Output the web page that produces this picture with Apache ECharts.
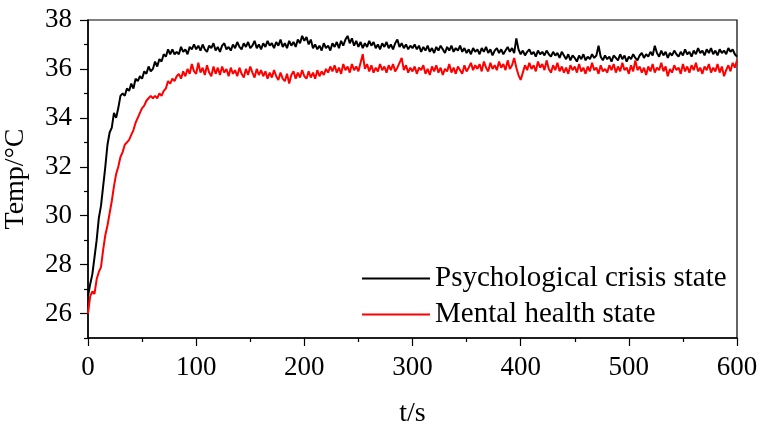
<!DOCTYPE html>
<html>
<head>
<meta charset="utf-8">
<script src="https://cdn.jsdelivr.net/npm/echarts@6/dist/echarts.min.js"></script>
<style>
html,body{margin:0;padding:0;background:#fff;}
#chart{width:760px;height:427px;}
</style>
</head>
<body>
<div id="chart"></div>
<script>
// sampling step (s) of the traces
const stepSeconds = 2;
const seriesNames = ['Psychological crisis state', 'Mental health state'];
const xTickLabels = [0, 100, 200, 300, 400, 500, 600];
const yTickLabels = [26, 28, 30, 32, 34, 36, 38];
const yMinorTicks = [25, 27, 29, 31, 33, 35, 37];

// Temperature (°C) every 2 s from t = 0 to 600 s
const crisisTemp = [
  26.7, 27.2, 27.6, 28.3, 29.0, 29.9, 30.4, 31.2, 32.0, 32.9,
  33.4, 33.6, 34.2, 34.0, 34.4, 34.9, 35.0, 34.9, 35.2, 35.1,
  35.4, 35.2, 35.6, 35.5, 35.7, 35.6, 35.9, 35.8, 36.1, 35.9,
  36.0, 36.3, 36.1, 36.4, 36.3, 36.6, 36.5, 36.8, 36.6, 36.8,
  36.6, 36.7, 36.6, 36.9, 36.7, 36.8, 36.6, 36.9, 36.8, 37.0,
  36.8,
  36.95, 36.75, 37.00, 36.80, 36.70, 36.95, 36.85, 37.05, 36.75, 36.90,
  36.70, 36.95, 37.05, 36.80, 36.90, 36.75, 37.00, 36.85, 37.10, 36.90,
  36.80, 37.05, 36.90, 37.10, 36.85, 36.95, 37.15, 36.85, 37.00, 36.80,
  37.05, 36.90, 37.15, 36.95, 37.05, 36.85, 37.10, 36.95, 37.20, 36.90,
  37.05, 36.85, 37.15, 36.95, 37.10, 36.90, 37.20, 37.05, 37.35, 37.15,
  37.30, 37.00, 37.20, 36.85, 37.00, 36.80, 36.95, 36.75, 37.05, 36.85,
  36.95, 36.75, 37.05, 36.90, 37.10, 36.85, 37.15, 36.95, 37.20, 37.35,
  37.05, 37.25, 36.95, 37.15, 36.90, 37.10, 36.85, 37.05, 36.90, 37.15,
  36.95, 37.10, 36.85, 37.00, 36.80, 37.05, 36.90, 37.10, 36.85, 37.00,
  36.80, 37.05, 37.20, 36.90, 37.05, 36.85, 37.00, 36.80, 36.95, 36.85,
  37.00, 36.80, 36.95, 36.70, 36.90, 36.75, 36.95, 36.70, 36.85, 36.65,
  36.90, 36.75, 36.95, 36.80, 36.65, 36.90, 36.75, 36.95, 36.70, 36.85,
  36.75, 36.95, 36.70, 36.85, 36.65, 36.80, 36.60, 36.85, 36.70, 36.80,
  36.60, 36.85, 36.70, 36.90, 36.65, 36.80, 36.55, 36.75, 36.85, 36.65,
  36.80, 36.60, 36.75, 36.90, 36.70, 36.85, 36.65, 37.25, 36.80, 36.60,
  36.75, 36.55, 36.70, 36.80, 36.60, 36.70, 36.50, 36.75, 36.60, 36.70,
  36.55, 36.75, 36.60, 36.50, 36.70, 36.55, 36.65, 36.45, 36.70, 36.55,
  36.40, 36.60, 36.35, 36.55, 36.45, 36.30, 36.55, 36.40, 36.60, 36.35,
  36.50, 36.40, 36.60, 36.45, 36.55, 36.95, 36.50, 36.35, 36.55, 36.40,
  36.50, 36.30, 36.55, 36.45, 36.35, 36.60, 36.40, 36.55, 36.30, 36.50,
  36.40, 36.60, 36.45, 36.35, 36.55, 36.65, 36.45, 36.60, 36.50, 36.70,
  36.55, 36.95, 36.65, 36.50, 36.75, 36.55, 36.70, 36.45, 36.65, 36.55,
  36.75, 36.60, 36.50, 36.70, 36.55, 36.80, 36.60, 36.70, 36.50, 36.75,
  36.60, 36.85, 36.65, 36.75, 36.55, 36.80, 36.65, 36.85, 36.60, 36.75,
  36.55, 36.80, 36.65, 36.75, 36.60, 36.85, 36.70, 36.80, 36.60, 36.50
];
const healthTemp = [
  26.0, 26.7, 26.9, 26.8, 27.4, 27.7, 27.9, 28.6, 29.2, 29.6,
  30.1, 30.6, 31.2, 31.7, 32.0, 32.4, 32.6, 32.9, 33.0, 33.1,
  33.3, 33.5, 33.8, 34.0, 34.2, 34.4, 34.5, 34.7, 34.8, 34.9,
  34.8, 34.9, 34.8, 35.0, 34.9, 35.1, 35.2, 35.5, 35.4, 35.6,
  35.5, 35.7, 35.8, 35.6, 35.9, 35.7, 36.0, 35.8, 36.2, 35.9,
  35.8,
  36.25, 35.85, 36.05, 35.75, 36.15, 35.85, 35.70, 36.10, 35.80, 36.05,
  35.75, 36.10, 35.85, 36.00, 35.70, 36.05, 35.80, 35.95, 35.70, 36.05,
  35.80, 35.65, 36.00, 35.75, 36.10, 35.85, 35.65, 36.00, 35.75, 35.95,
  35.70, 35.90, 35.60, 35.85, 35.65, 35.95, 35.70, 35.55, 35.85, 35.60,
  35.50, 35.80, 35.40, 35.75, 35.90, 35.60, 35.85, 35.65, 35.95, 35.70,
  35.60, 35.90, 35.65, 35.85, 35.60, 35.95, 35.70, 35.90, 35.75, 36.00,
  35.85, 36.10, 35.90, 36.15, 35.85, 36.05, 35.80, 36.20, 35.95, 36.10,
  35.85, 36.20, 35.95, 36.10, 35.90, 36.25, 36.60, 36.00, 36.20, 35.90,
  36.15, 35.85, 36.05, 35.90, 36.20, 35.95, 36.10, 35.85, 36.15, 35.95,
  36.20, 35.90, 36.05, 36.25, 36.45, 35.95, 36.15, 35.85, 36.05, 35.90,
  36.10, 35.80, 36.05, 35.95, 36.15, 35.80, 36.00, 35.75, 36.10, 35.90,
  36.15, 35.85, 36.05, 35.75, 36.00, 35.90, 36.20, 35.85, 36.05, 35.80,
  36.10, 35.95, 35.80, 36.15, 35.90, 36.05, 36.25, 35.95, 36.15, 36.00,
  36.20, 35.90, 36.30, 36.05, 35.90, 36.25, 36.00, 36.15, 35.95, 36.30,
  36.05, 36.20, 35.95, 36.35, 36.00, 36.15, 36.45, 36.05, 35.75, 35.55,
  35.85, 36.15, 35.95, 36.25, 36.00, 36.15, 35.90, 36.30, 36.05, 36.20,
  35.95, 36.35, 36.00, 35.85, 36.15, 35.95, 36.25, 35.90, 36.10, 35.85,
  36.05, 35.80, 36.15, 35.95, 36.10, 35.85, 36.20, 35.90, 36.05, 35.80,
  36.10, 35.90, 36.25, 35.95, 36.05, 35.80, 36.15, 35.90, 36.00, 35.85,
  36.15, 35.95, 36.20, 35.85, 36.10, 35.90, 36.25, 35.95, 36.05, 35.80,
  36.15, 35.90, 36.35, 35.95, 36.10, 35.85, 36.05, 35.75, 36.10, 35.90,
  36.20, 35.85, 36.05, 35.95, 36.25, 35.90, 36.10, 35.70, 36.00, 35.85,
  36.15, 35.95, 36.05, 35.80, 36.20, 35.90, 36.10, 35.85, 36.15, 35.95,
  36.25, 35.90, 36.05, 35.80, 36.10, 35.95, 36.20, 35.85, 36.05, 35.90,
  36.20, 35.85, 36.10, 35.70, 35.95, 36.15, 35.90, 36.25, 36.05, 36.35
];

function pairs(values) {
  return values.map((v, i) => [i * stepSeconds, v]);
}

const FONT = 'Liberation Serif';
const chart = echarts.init(document.getElementById('chart'), null, {renderer: 'canvas'});
chart.setOption({
  animation: false,
  backgroundColor: '#fff',
  grid: {left: 88, right: 23, top: 20, bottom: 89, outerBoundsMode: 'none', containLabel: false,
         show: true, borderColor: '#000', borderWidth: 1.2, backgroundColor: 'transparent'},
  legend: {
    orient: 'vertical',
    left: 362,
    top: 264,
    padding: 0,
    itemWidth: 68,
    itemHeight: 2,
    itemGap: 7,
    icon: 'rect',
    textStyle: {fontFamily: FONT, fontSize: 29, color: '#000'},
    data: seriesNames
  },
  xAxis: {
    type: 'value',
    min: 0, max: 600, interval: 100,
    name: 't/s',
    nameLocation: 'middle',
    nameGap: 62,
    nameTextStyle: {fontFamily: FONT, fontSize: 28, color: '#000'},
    axisLine: {show: true, onZero: false, lineStyle: {color: '#000', width: 1.5}},
    axisTick: {show: true, length: 8, lineStyle: {color: '#000', width: 1.2}, customValues: xTickLabels},
    minorTick: {show: true, splitNumber: 2, length: 4, lineStyle: {color: '#000', width: 1.2}},
    axisLabel: {fontFamily: FONT, fontSize: 27, color: '#000', margin: 16, customValues: xTickLabels},
    splitLine: {show: false}
  },
  yAxis: [{
    type: 'value',
    min: 25, max: 38, interval: 1,
    name: 'Temp/°C',
    nameLocation: 'middle',
    nameGap: 58,
    nameTextStyle: {fontFamily: FONT, fontSize: 28, color: '#000'},
    axisLine: {show: true, onZero: false, lineStyle: {color: '#000', width: 1.5}},
    axisTick: {show: true, length: 8, lineStyle: {color: '#000', width: 1.2}, customValues: yTickLabels},
    axisLabel: {fontFamily: FONT, fontSize: 27, color: '#000', margin: 16, customValues: yTickLabels},
    splitLine: {show: false}
  }, {
    type: 'value',
    position: 'left',
    min: 25, max: 38, interval: 1,
    axisLine: {show: false},
    axisTick: {show: true, length: 4, lineStyle: {color: '#000', width: 1.2}, customValues: yMinorTicks},
    axisLabel: {show: false},
    splitLine: {show: false}
  }],
  series: [{
    name: seriesNames[0],
    type: 'line',
    data: pairs(crisisTemp),
    symbol: 'none',
    color: '#000',
    lineStyle: {color: '#000', width: 2}
  }, {
    name: seriesNames[1],
    type: 'line',
    data: pairs(healthTemp),
    symbol: 'none',
    color: '#ff0000',
    lineStyle: {color: '#ff0000', width: 2}
  }]
});
</script>
</body>
</html>
